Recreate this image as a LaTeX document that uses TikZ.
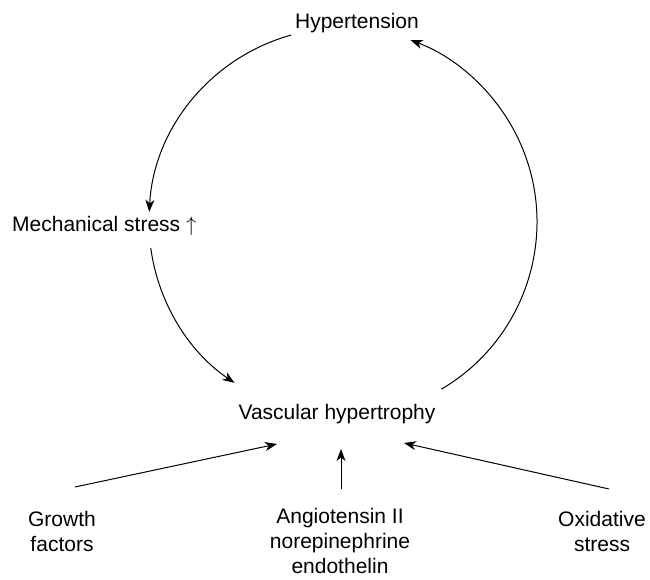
\documentclass[tikz,border=0pt]{standalone}
\usepackage{fontspec}
\setmainfont{Liberation Sans}
\usetikzlibrary{arrows.meta,calc}
\begin{document}
\begin{tikzpicture}[x=1pt,y=1pt,
  lbl/.style={inner sep=0pt,align=center,font=\fontsize{21}{25}\selectfont},
  conn/.style={line width=1pt,-{Stealth[length=12pt,width=9pt,inset=3.5pt]}}]
\useasboundingbox (0,0) rectangle (650,579);
\node[lbl] (hyp) at (357,556) {Hypertension};
\node[lbl,anchor=west] (mech) at (12,353) {Mechanical stress $\uparrow$};
\node[lbl] (vas) at (337,165) {Vascular hypertrophy};
\node[lbl] (gf) at (62,48) {Growth\\factors};
\node[lbl] (ang) at (340,38) {Angiotensin II\\norepinephrine\\endothelin};
\node[lbl] (ox) at (602,48) {Oxidative\\stress};
\coordinate (C) at (343,357);
\def\R{194}
\coordinate (h1) at ($(C)+(105.5:\R)$);
\coordinate (m1) at ($(C)+(187.7:\R)$);
\coordinate (v1) at ($(C)+(300.5:\R)$);
\draw[conn] (h1) arc[start angle=105.5,end angle=177,radius=\R];
\draw[conn] (m1) arc[start angle=187.7,end angle=236,radius=\R];
\draw[conn] (v1) arc[start angle=300.5,end angle=429.6,radius=\R];
\coordinate (gfs) at (75,92);
\coordinate (gfe) at (277,135);
\coordinate (angs) at (341,90);
\coordinate (ange) at (341,130);
\coordinate (oxs) at (609,90);
\coordinate (oxe) at (404,136);
\draw[conn] (gfs) -- (gfe);
\draw[conn] (angs) -- (ange);
\draw[conn] (oxs) -- (oxe);
\end{tikzpicture}
\end{document}
